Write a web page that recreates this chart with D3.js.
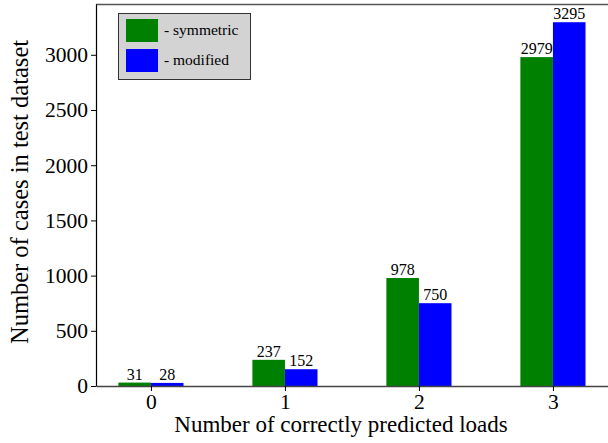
<!DOCTYPE html>
<html>
<head>
<meta charset="utf-8">
<script src="https://cdn.jsdelivr.net/npm/d3@7"></script>
<style>
  html, body { margin: 0; padding: 0; background: #fff; }
  svg { display: block; }
  text { font-family: "Liberation Serif", "Times New Roman", serif; fill: #000; }
</style>
</head>
<body>
<svg id="chart" width="608" height="443"></svg>
<script>
// Number of test cases by how many loads were predicted correctly
const categories = [0, 1, 2, 3];
const symmetric = [31, 237, 978, 2979];
const modified = [28, 152, 750, 3295];
const seriesNames = ["- symmetric", "- modified"];
const seriesColors = ["#008000", "#0000ff"];
const yTicks = [0, 500, 1000, 1500, 2000, 2500, 3000];

const svg = d3.select("#chart");
const plotLeft = 96, plotRight = 608, plotTop = 4, plotBottom = 386;

const x = d3.scaleLinear().domain([-0.41, 3.41]).range([plotLeft, plotLeft + 3.82 * 134]);
const y = d3.scaleLinear().domain([0, 3460]).range([plotBottom, plotTop]);
const barW = 0.243; // in category units

// top frame line
svg.append("line").attr("x1", plotLeft).attr("x2", plotRight).attr("y1", plotTop + 0.5).attr("y2", plotTop + 0.5)
  .attr("stroke", "#555").attr("stroke-width", 1.5);

// bars and value labels
const series = [symmetric, modified];
series.forEach((vals, si) => {
  const offset = si === 0 ? -barW : 0;
  svg.append("g").selectAll("rect").data(categories).join("rect")
    .attr("x", d => x(d + offset))
    .attr("width", d => x(d + offset + barW) - x(d + offset))
    .attr("y", (d, i) => y(vals[i]))
    .attr("height", (d, i) => y(0) - y(vals[i]))
    .attr("fill", seriesColors[si]);
  svg.append("g").selectAll("text").data(categories).join("text")
    .attr("x", d => x(d + offset + barW / 2))
    .attr("y", (d, i) => y(vals[i]) - 3)
    .attr("text-anchor", "middle")
    .attr("font-size", 16)
    .text((d, i) => vals[i]);
});

// y axis
const yAxis = svg.append("g").attr("transform", `translate(${plotLeft},0)`)
  .call(d3.axisLeft(y).tickValues(yTicks).tickFormat(d3.format("d")).tickSize(5).tickPadding(3).tickSizeOuter(0));
yAxis.select(".domain").attr("stroke", "#000").attr("stroke-width", 1.2);
yAxis.selectAll(".tick line").attr("stroke", "#000");
yAxis.selectAll(".tick text").attr("font-size", 21.5).attr("fill", "#000");

// x axis
const xAxis = svg.append("g").attr("transform", `translate(0,${plotBottom})`)
  .call(d3.axisBottom(x).tickValues(categories).tickFormat(d3.format("d")).tickSize(5).tickPadding(3).tickSizeOuter(0));
xAxis.select(".domain").attr("stroke", "#444").attr("stroke-width", 1.5);
xAxis.selectAll(".tick line").attr("stroke", "#000");
xAxis.selectAll(".tick text").attr("font-size", 21.5).attr("fill", "#000");

// axis titles
svg.append("text").attr("x", 341).attr("y", 432).attr("text-anchor", "middle")
  .attr("font-size", 23).text("Number of correctly predicted loads");
svg.append("text").attr("transform", "translate(28,192) rotate(-90)").attr("text-anchor", "middle")
  .attr("font-size", 24.5).text("Number of cases in test dataset");

// legend
const lg = svg.append("g");
lg.append("rect").attr("x", 118.5).attr("y", 13.5).attr("width", 132).attr("height", 66)
  .attr("fill", "#d3d3d3").attr("stroke", "#333").attr("stroke-width", 1);
seriesNames.forEach((name, i) => {
  lg.append("rect").attr("x", 126).attr("y", 19 + i * 30).attr("width", 32).attr("height", 23)
    .attr("fill", seriesColors[i]);
  lg.append("text").attr("x", 164).attr("y", 35 + i * 30).attr("font-size", 15.5).text(name);
});
</script>
</body>
</html>
